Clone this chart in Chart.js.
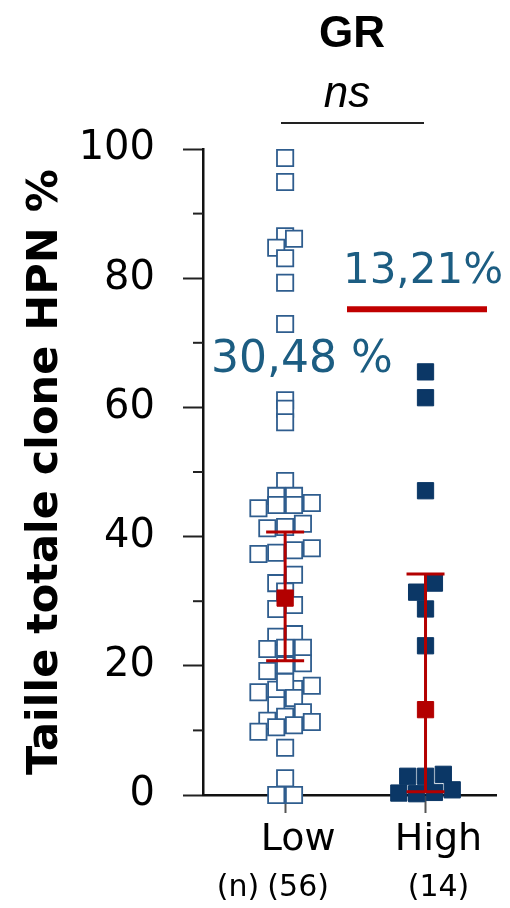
<!DOCTYPE html>
<html>
<head>
<meta charset="utf-8">
<script src="https://cdn.jsdelivr.net/npm/chart.js@4/dist/chart.umd.min.js"></script>
<style>
  html, body { margin: 0; padding: 0; background: #fff; }
  canvas { display: block; }
</style>
</head>
<body>
<canvas id="chart" width="510" height="908"></canvas>
<script>
// categories + counts under the axis
const categories = ['Low', 'High'];
const groupCounts = ['(56)', '(14)'];

// individual values (%), lane = column of the dot plot (-3..3)
const lowValues = [98.6, 94.9, 86.5, 86.1, 84.7, 83.1, 79.3, 72.9, 61.1, 59.8, 57.7,
  48.6, 46.3, 46.3, 44.4, 44.9, 44.9, 45.2, 41.3, 41.5, 42.0,
  37.3, 37.5, 37.9, 38.2, 34.1, 32.8, 31.5, 29.4, 28.8, 24.5, 24.9,
  22.6, 22.8, 22.8, 20.4, 20.1, 19.2, 15.9, 16.3, 16.4, 16.9, 17.5,
  15.0, 13.9, 12.8, 11.5, 12.1, 9.8, 10.5, 10.8, 11.3, 7.3, 2.6, 0, 0];
const lowLanes = [0, 0, 0, 1, -1, 0, 0, 0, 0, 0, 0,
  0, -1, 1, -3, -1, 1, 3, -2, 0, 2,
  -3, -1, 1, 3, 1, -1, 0, 1, -1, -1, 1,
  -2, 0, 2, 2, 0, -2, -3, -1, 1, 3, 0,
  1, -1, 2, -2, 0, -3, -1, 1, 3, 0, 0, -1, 1];

const highValues = [65.5, 61.5, 47.1, 32.8, 31.4, 28.8, 23.1, 2.9, 2.9, 3.2, 0.3, 0.2, 0.4, 0.8];
const highLanes = [0, 0, 0, 1, -1, 0, 0, -2, 0, 2, -3, -1, 1, 3];

// mean and error bar ends
const means = [30.48, 13.21];
const errUpper = [40.7, 34.2];
const errLower = [20.8, 0.5];
const meanLabels = ['30,48 %', '13,21%'];

const yTicks = [0, 20, 40, 60, 80, 100];
const yMinorTicks = [10, 30, 50, 70, 90];

const laneStep = 0.0634;
const blueOpen = '#2f5d8e';
const navy = '#0b3766';
const red = '#b30000';
const teal = '#1c5d82';
const numFont = 'DejaVu Sans';

const decor = {
  id: 'decor',
  beforeDatasetDraw(chart, args) {
    if (args.index !== 2) return;
    const { ctx, scales: { x, y } } = chart;
    ctx.save();
    ctx.strokeStyle = red;
    ctx.lineWidth = 3;
    means.forEach((m, i) => {
      const px = x.getPixelForValue(i + 1);
      const top = y.getPixelForValue(errUpper[i]);
      const bot = y.getPixelForValue(errLower[i]);
      ctx.beginPath();
      ctx.moveTo(px, top); ctx.lineTo(px, bot);
      ctx.moveTo(px - 19, top); ctx.lineTo(px + 19, top);
      ctx.moveTo(px - 19, bot); ctx.lineTo(px + 19, bot);
      ctx.stroke();
    });
    ctx.restore();
  },
  afterDraw(chart) {
    const { ctx, scales: { x, y } } = chart;
    ctx.save();
    // minor ticks on y axis
    ctx.strokeStyle = '#222';
    ctx.lineWidth = 2;
    yMinorTicks.forEach(v => {
      const py = y.getPixelForValue(v);
      ctx.beginPath();
      ctx.moveTo(x.left - 10, py); ctx.lineTo(x.left, py);
      ctx.stroke();
    });

    // header
    ctx.fillStyle = '#000';
    ctx.textAlign = 'center';
    ctx.textBaseline = 'alphabetic';
    ctx.font = 'bold 44px "Liberation Sans"';
    ctx.fillText('GR', 352, 47);
    ctx.font = 'italic 44px "Liberation Sans"';
    ctx.fillText('ns', 347, 107);
    ctx.lineWidth = 2;
    ctx.beginPath();
    ctx.moveTo(281, 123); ctx.lineTo(424, 123);
    ctx.stroke();

    // counts row
    ctx.textBaseline = 'middle';
    ctx.font = '30px "' + numFont + '"';
    ctx.fillText('(n)', 238, 888);
    groupCounts.forEach((c, i) => ctx.fillText(c, x.getPixelForValue(i + 1) + 13, 888));

    // mean annotations
    ctx.fillStyle = teal;
    ctx.font = '44px "' + numFont + '"';
    ctx.fillText(meanLabels[0], 302, y.getPixelForValue(67.3));
    ctx.font = '42px "' + numFont + '"';
    ctx.fillText(meanLabels[1], 423, y.getPixelForValue(81));
    ctx.strokeStyle = '#c00000';
    ctx.lineWidth = 6;
    ctx.beginPath();
    ctx.moveTo(347, y.getPixelForValue(75.2));
    ctx.lineTo(487, y.getPixelForValue(75.2));
    ctx.stroke();
    ctx.restore();
  }
};

new Chart(document.getElementById('chart'), {
  type: 'scatter',
  data: {
    datasets: [
      {
        label: categories[0],
        data: lowValues.map((v, i) => ({ x: 1 + lowLanes[i] * laneStep, y: v })),
        pointStyle: 'rect',
        pointRadius: 11.5,
        backgroundColor: '#fff',
        borderColor: blueOpen,
        borderWidth: 1.8,
        clip: false,
        order: 3
      },
      {
        label: categories[1],
        data: highValues.map((v, i) => ({ x: 2 + highLanes[i] * laneStep, y: v })),
        pointStyle: 'rect',
        pointRadius: 11.5,
        backgroundColor: navy,
        borderColor: navy,
        borderWidth: 1,
        clip: false,
        order: 2
      },
      {
        label: 'Moyenne',
        data: means.map((m, i) => ({ x: i + 1, y: m })),
        pointStyle: 'rect',
        pointRadius: 11.5,
        backgroundColor: red,
        borderColor: red,
        borderWidth: 1,
        clip: false,
        order: 1
      }
    ]
  },
  options: {
    responsive: false,
    devicePixelRatio: 1,
    animation: false,
    events: [],
    layout: { padding: { top: 149, right: 10, left: 0, bottom: 0 } },
    plugins: { legend: { display: false }, tooltip: { enabled: false } },
    scales: {
      x: {
        type: 'linear',
        min: 0.415,
        max: 2.507,
        afterBuildTicks: s => { s.ticks = categories.map((c, i) => ({ value: i + 1 })); },
        afterFit: s => { s.height = 113; },
        border: { color: '#111', width: 2.5 },
        grid: { drawOnChartArea: false, tickLength: 18, tickWidth: 2, tickColor: '#555' },
        ticks: {
          autoSkip: false,
          maxRotation: 0,
          padding: 4,
          labelOffset: 13,
          color: '#000',
          font: { family: numFont, size: 38 },
          callback: (v, i) => categories[i]
        }
      },
      y: {
        min: 0,
        max: 100,
        afterBuildTicks: s => { s.ticks = yTicks.map(v => ({ value: v })); },
        afterFit: s => { s.width = 203; },
        border: { color: '#111', width: 2.5 },
        grid: { drawOnChartArea: false, tickLength: 20, tickWidth: 2, tickColor: '#222' },
        ticks: { padding: 28, color: '#000', font: { family: numFont, size: 40 } },
        title: {
          display: true,
          text: 'Taille totale clone HPN %',
          color: '#000',
          font: { family: numFont, size: 43, weight: 'bold' },
          padding: { top: 20, bottom: 0 }
        }
      }
    }
  },
  plugins: [decor]
});
</script>
</body>
</html>
